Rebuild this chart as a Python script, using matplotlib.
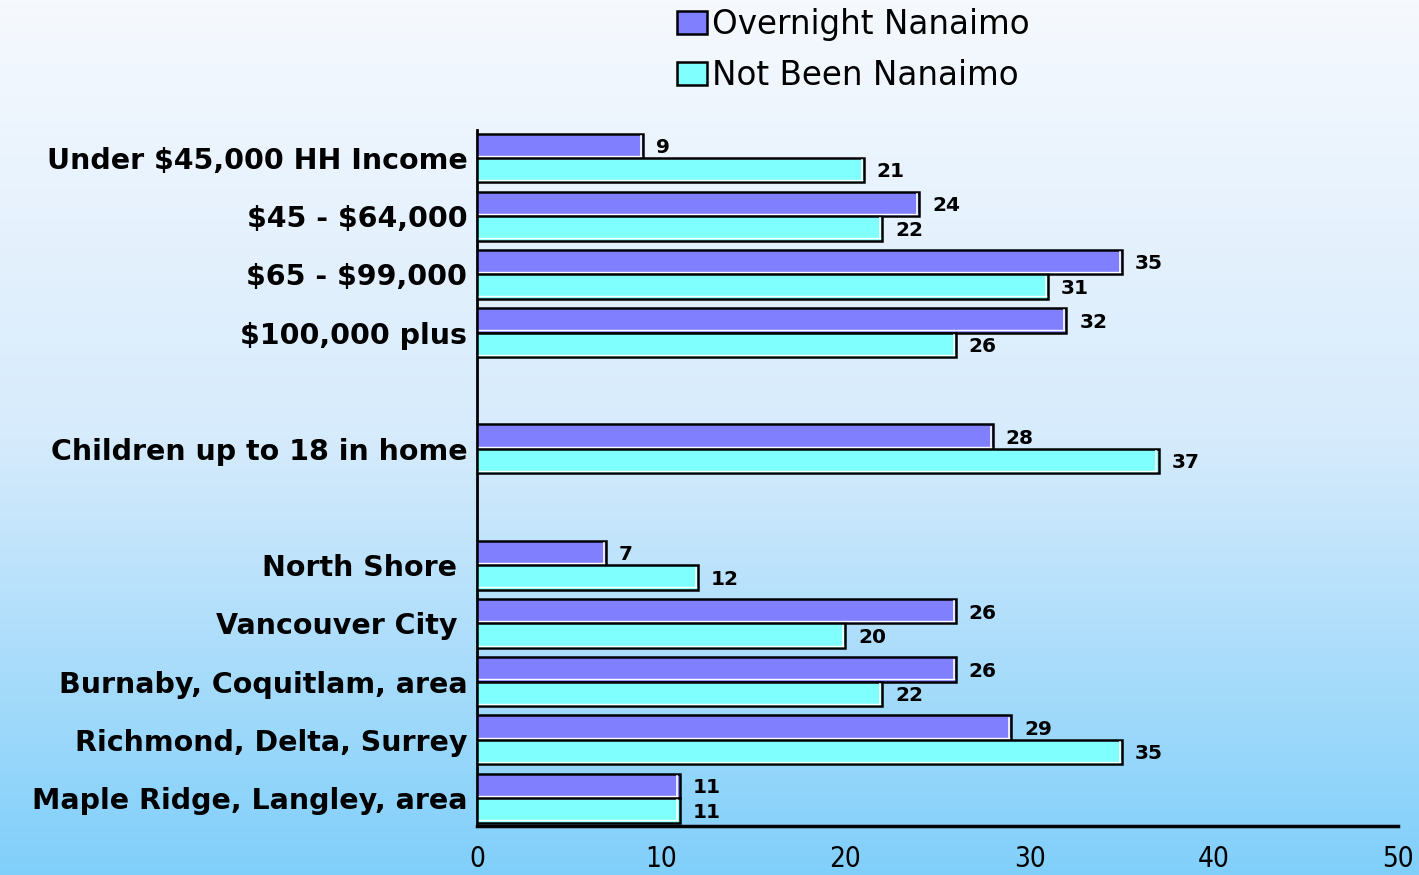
import numpy as np
import matplotlib
matplotlib.use("Agg")
import matplotlib.pyplot as plt
from matplotlib.colors import LinearSegmentedColormap
from matplotlib.patches import Patch

plt.rcParams["text.parse_math"] = False

# categories, top to bottom (blank rows separate the groups)
categories = ["Under $45,000 HH Income", "$45 - $64,000", "$65 - $99,000", "$100,000 plus",
              "Children up to 18 in home",
              "North Shore ", "Vancouver City ", "Burnaby, Coquitlam, area",
              "Richmond, Delta, Surrey", "Maple Ridge, Langley, area"]
slots = [0, 1, 2, 3, 5, 7, 8, 9, 10, 11]
overnight = [9, 24, 35, 32, 28, 7, 26, 26, 29, 11]
not_been = [21, 22, 31, 26, 37, 12, 20, 22, 35, 11]
series_names = ["Overnight Nanaimo", "Not Been Nanaimo"]
xticks = [0, 10, 20, 30, 40, 50]

c_over = "#8080ff"
c_not = "#80ffff"

fig = plt.figure(figsize=(14.19, 8.75), dpi=100)

# background gradient
bg = fig.add_axes([0, 0, 1, 1], zorder=0)
grad = np.linspace(0, 1, 256).reshape(-1, 1)
cmap = LinearSegmentedColormap.from_list("bg", ["#f6f9fe", "#d6ebfc", "#80cffa"])
bg.imshow(grad, aspect="auto", cmap=cmap, extent=[0, 1, 0, 1], origin="upper")
bg.axis("off")

ax = fig.add_axes([0.3362, 0.056, 0.649, 0.7954], zorder=1)
ax.set_facecolor("none")

h = 0.42
y = np.array(slots, dtype=float)
for vals, off, col in [(overnight, -h / 2, c_over), (not_been, h / 2, c_not)]:
    ax.barh(y + off, vals, height=h, color=col, edgecolor="black", linewidth=1.8, zorder=3)
    for yy, v in zip(y + off, vals):
        # white highlight just inside the right and bottom edges
        ax.plot([v - 0.12, v - 0.12], [yy - h / 2 + 0.04, yy + h / 2 - 0.04], color="white", lw=1.2, zorder=4)
        ax.plot([0.1, v - 0.12], [yy + h / 2 - 0.04, yy + h / 2 - 0.04], color="white", lw=1.0, zorder=4)
        ax.text(v + 0.7, yy + 0.03, str(v), ha="left", va="center", fontsize=14.5,
                fontweight="bold", color="black", zorder=5)

ax.set_xlim(0, 50)
ax.set_ylim(11.48, -0.48)
ax.set_yticks(slots)
ax.set_yticklabels(categories, fontsize=20.5, fontweight="bold")
ax.set_xticks(xticks)
ax.set_xticklabels([str(t) for t in xticks], fontsize=20, fontstretch="condensed")
ax.tick_params(axis="both", length=0)
ax.tick_params(axis="y", pad=7)
ax.tick_params(axis="x", pad=14)

for s in ["top", "right"]:
    ax.spines[s].set_visible(False)
ax.spines["left"].set_linewidth(2)
ax.spines["bottom"].set_linewidth(2.5)

handles = [Patch(facecolor=c_over, edgecolor="black", linewidth=1.8),
           Patch(facecolor=c_not, edgecolor="black", linewidth=1.8)]
fig.legend(handles, series_names, loc="upper left", bbox_to_anchor=(674 / 1419, 0.995),
           frameon=False, fontsize=23.5, handlelength=0.9, handleheight=0.7,
           handletextpad=0.15, labelspacing=0.55, borderpad=0.1, borderaxespad=0)

fig.savefig("out.png", dpi=100)
